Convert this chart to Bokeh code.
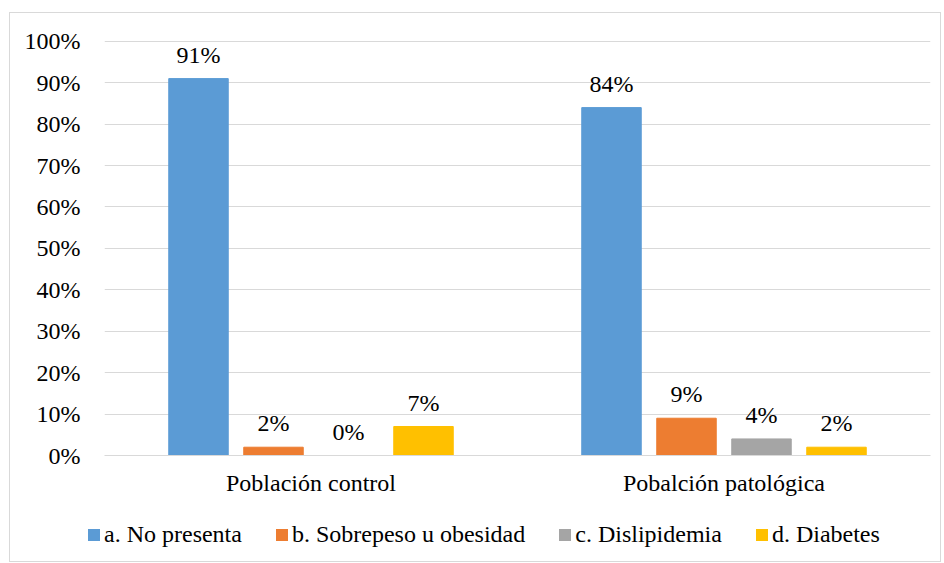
from bokeh.plotting import figure
from bokeh.layouts import column
from bokeh.models import (ColumnDataSource, FactorRange, Range1d, FixedTicker,
                          NumeralTickFormatter, LabelSet, Div)
from bokeh.transform import dodge
from bokeh.embed import file_html
from bokeh.resources import INLINE

categories = ["Población control", "Pobalción patológica"]
series_names = ["a. No presenta", "b. Sobrepeso u obesidad", "c. Dislipidemia", "d. Diabetes"]
no_presenta = [0.91, 0.84]
sobrepeso = [0.02, 0.09]
dislipidemia = [0.00, 0.04]
diabetes = [0.07, 0.02]
y_ticks = [0, 0.1, 0.2, 0.3, 0.4, 0.5, 0.6, 0.7, 0.8, 0.9, 1.0]

series_values = [no_presenta, sobrepeso, dislipidemia, diabetes]
colors = ["#5B9BD5", "#ED7D31", "#A5A5A5", "#FFC000"]
FONT = "Times New Roman"
FS = "24px"

p = figure(x_range=FactorRange(*categories, range_padding=0),
           y_range=Range1d(0, 1.002),
           width=930, height=490, output_backend="svg", toolbar_location=None,
           min_border_left=94, min_border_right=10, min_border_top=27, min_border_bottom=48)
p.outline_line_color = None
p.background_fill_color = "white"
p.border_fill_color = "white"

offsets = [-0.2724, -0.0908, 0.0908, 0.2724]
for name, vals, col, off in zip(series_names, series_values, colors, offsets):
    src = ColumnDataSource(dict(cat=categories, val=vals,
                                lab=[f"{round(v*100)}%" for v in vals]))
    p.vbar(x=dodge("cat", off, range=p.x_range), top="val", width=0.144,
           source=src, fill_color=col, line_color=col, legend_label=name)
    labels = LabelSet(x=dodge("cat", off, range=p.x_range), y="val", text="lab", source=src,
                      text_align="center", text_baseline="alphabetic", y_offset=16,
                      text_font=FONT, text_font_size=FS, text_color="#000000")
    p.add_layout(labels)
# the in-plot legend is replaced by the legend strip below
p.legend.visible = False

p.yaxis.ticker = FixedTicker(ticks=y_ticks)
p.yaxis.formatter = NumeralTickFormatter(format="0%")
p.yaxis.axis_line_color = None
p.yaxis.major_tick_line_color = None
p.yaxis.minor_tick_line_color = None
p.yaxis.major_label_standoff = 18
p.yaxis.major_label_text_font = FONT
p.yaxis.major_label_text_font_size = FS
p.yaxis.major_label_text_color = "#000000"

p.xaxis.axis_line_color = "#d9d9d9"
p.xaxis.major_tick_line_color = None
p.xaxis.minor_tick_line_color = None
p.xaxis.major_label_standoff = 8
p.xaxis.major_label_text_font = FONT
p.xaxis.major_label_text_font_size = FS
p.xaxis.major_label_text_color = "#000000"

p.xgrid.grid_line_color = None
p.ygrid.grid_line_color = "#d9d9d9"
p.ygrid.grid_line_width = 1

# legend strip built from the series names and colours
item_html = []
for name, col in zip(series_names, colors):
    item_html.append(
        f'<span style="display:inline-block;width:12px;height:12px;background:{col};'
        f'vertical-align:baseline;margin:0 4px 1px 0;"></span>'
        f'<span style="margin-right:34px;">{name}</span>')
legend_html = (
    '<div style="font-family:\'Times New Roman\',\'Liberation Serif\',serif;font-size:24px;'
    'line-height:24px;color:#000;white-space:nowrap;padding:19px 0 0 78px;">'
    + "".join(item_html) + '</div>')
legend_div = Div(text=legend_html, width=930, height=58, margin=0)

layout = column(p, legend_div, spacing=0, styles={"border": "1px solid #d9d9d9"},
                margin=(12, 0, 0, 9))

open("out.html", "w").write(file_html(layout, INLINE))
